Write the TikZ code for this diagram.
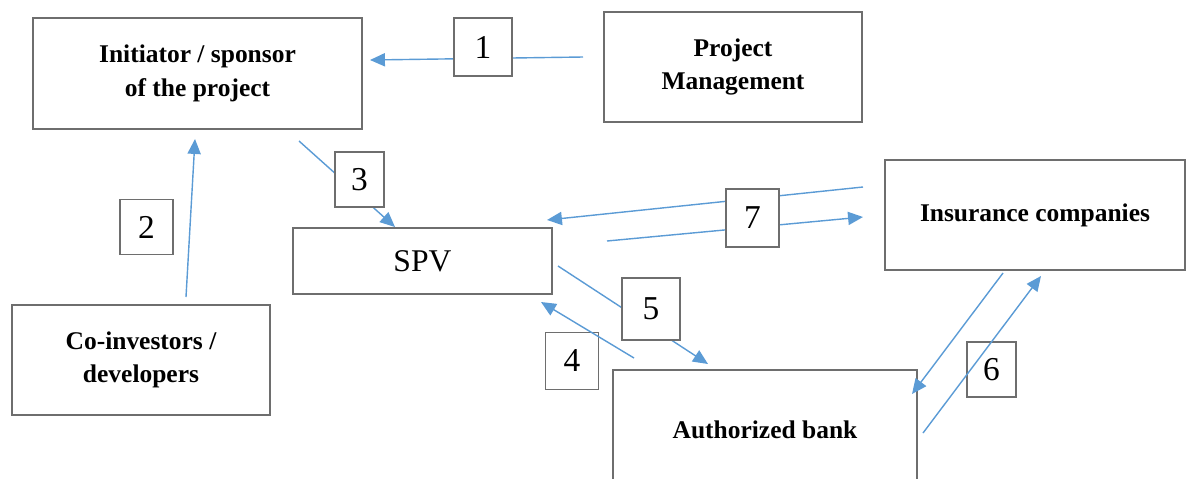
\documentclass[tikz,border=0pt]{standalone}
\usepackage{fontspec}
\setmainfont{Liberation Serif}
\usepackage{tikz}
\usetikzlibrary{calc, positioning, arrows.meta}
\definecolor{arrowblue}{RGB}{91,155,213}
\definecolor{boxgray}{RGB}{110,110,110}
\tikzset{
	bigbox/.style={draw=boxgray, line width=1.1pt, inner sep=0pt, align=center,
		font=\fontsize{14.5}{19}\selectfont\bfseries},
	numbox/.style={draw=boxgray, fill=white, line width=0.9pt, inner sep=0pt,
		minimum width=1.06cm, minimum height=1.1cm, font=\fontsize{19}{19}\selectfont},
	flow/.style={arrowblue, line width=0.8pt, -{Triangle[length=8.5pt,width=7.5pt]}}
}

\begin{document}
\begin{tikzpicture}[x=0.02cm, y=-0.02cm]
			\useasboundingbox (0,0) rectangle (1187,478);
			
			%main boxes
			\node[bigbox, minimum width=6.58cm, minimum height=2.22cm] (init) at (197.5,73.5) {Initiator / sponsor\\of the project};
			\node[bigbox, minimum width=5.16cm, minimum height=2.2cm] (pm) at (733,67) {Project\\Management};
			\node[bigbox, minimum width=5.18cm, minimum height=1.32cm, font=\fontsize{18}{18}\selectfont] (spv) at (422.5,261) {SPV};
			\node[bigbox, minimum width=6.0cm, minimum height=2.2cm] (ins) at (1035,215) {Insurance companies};
			\node[bigbox, minimum width=5.16cm, minimum height=2.2cm] (coinv) at (141,360) {Co-investors /\\developers};
			\node[bigbox, minimum width=6.08cm, minimum height=2.4cm] (bank) at (765,430) {Authorized bank};
			
			%numbers under the lines
			\node[numbox, fill=none, minimum height=1.14cm] (n4) at (572,361) {4};
			\node[numbox, fill=none, minimum width=0.98cm] (n6) at (991.5,369.5) {6};
			
			%arrow ends
			\coordinate (a1s) at (583,57);   \coordinate (a1e) at (370,60);
			\coordinate (a2s) at (186,297);  \coordinate (a2e) at (195,139);
			\coordinate (a3s) at (299,141);  \coordinate (a3e) at (395,227);
			\coordinate (a4s) at (634,358);  \coordinate (a4e) at (541,302);
			\coordinate (a5s) at (558,266);  \coordinate (a5e) at (708,364);
			\coordinate (a6s) at (1003,273); \coordinate (a6e) at (912,394);
			\coordinate (b6s) at (923,433);  \coordinate (b6e) at (1041,276);
			\coordinate (a7s) at (863,187);  \coordinate (a7e) at (547,220);
			\coordinate (b7s) at (607,241);  \coordinate (b7e) at (863,217);
			
			\draw[flow] (a1s) -- (a1e);
			\draw[flow] (a2s) -- (a2e);
			\draw[flow] (a3s) -- (a3e);
			\draw[flow] (a4s) -- (a4e);
			\draw[flow] (a5s) -- (a5e);
			\draw[flow] (a6s) -- (a6e);
			\draw[flow] (b6s) -- (b6e);
			\draw[flow] (a7s) -- (a7e);
			\draw[flow] (b7s) -- (b7e);
			
			%numbers over the lines
			\node[numbox, minimum width=1.16cm, minimum height=1.16cm] (n1) at (483,47) {1};
			\node[numbox] (n2) at (146.5,227) {2};
			\node[numbox, minimum width=0.98cm] (n3) at (359.5,179.5) {3};
			\node[numbox, minimum width=1.16cm, minimum height=1.24cm] (n5) at (651,309) {5};
			\node[numbox, minimum height=1.16cm] (n7) at (752.5,218) {7};
			
		\end{tikzpicture}
\end{document}
